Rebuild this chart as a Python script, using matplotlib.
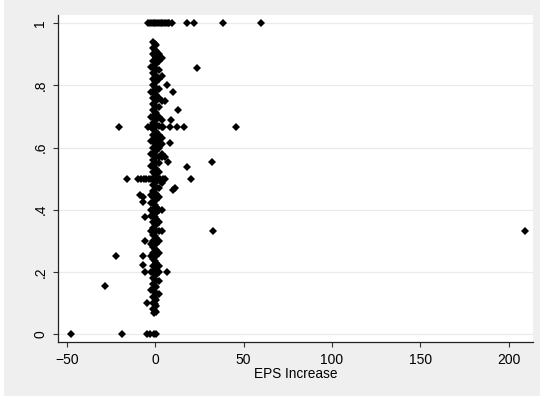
import matplotlib
matplotlib.use("Agg")
import matplotlib.pyplot as plt
from matplotlib.patches import Rectangle

plt.rcParams["font.family"] = ["Liberation Sans", "DejaVu Sans"]

# ── Data ──────────────────────────────────────────────────────────────────────
# dense column around EPS increase ~ 0
col_left_y  = [.94, .92, .90, .88, .86, .84, .82, .80, .78, .76, .74, .72, .70, .68, .66,
               .64, .62, .60, .58, .56, .54, .52, .50, .48, .46, .44, .42, .40, .38, .36,
               .34, .32, .30, .28, .26, .24, .22, .20, .18, .16, .14, .12, .10, .08]
col_mid_y   = [.93, .91, .89, .87, .85, .83, .81, .79, .77, .75, .73, .71, .69, .67, .65,
               .63, .61, .59, .57, .55, .53, .51, .49, .47, .45, .43, .41, .39, .37, .35,
               .33, .31, .29, .27, .25, .23, .21, .19, .17, .15, .13, .11, .09, .07]
col_c_y     = [.935, .915, .895, .875, .855, .835, .815, .795, .775, .755, .735, .715, .695,
               .675, .655, .635, .615, .595, .575, .555, .535, .515, .495, .475, .455, .435,
               .415, .395, .375, .355, .335, .315, .295, .275, .255, .235, .215, .195, .175,
               .155, .135, .115, .095, .075]
col_right_y = [.90, .88, .85, .82, .79, .76, .73, .70, .67, .64, .62, .60, .57, .55, .52,
               .47, .44, .40, .36, .33, .30, .26, .22, .20, .17, .13]
col_far_y   = [.89, .83, .75, .69, .667, .63, .61, .58, .57, .485, .40, .333]
col_neg_y   = [.86, .78, .70, .667, .62, .58, .54, .50, .447, .42, .40, .38, .333, .29, .25, .20, .14]

# rows at exact ratios
top_x  = [-4, -3, -2, -1, 0, 1, 2, 3, 4, 5, 6, 7, 8, 9.5, 18.1, 22.1, 38.5, 60]
zero_x = [-47.6, -18.8, -4.5, -3, -0.5, 0.5]
half_x = [-16, -9.6, -8, -6.5, -5, -3.5, 2.5, 4.5, 5.7, 20.3]
twoth_x = [-20.4, -4, -2.5, 4.5, 8.5, 12.5, 16.5, 45.8]

# scattered outliers
out_x = [23.8, 6.7, 9.8, 13, 9, 8.5, 7.4, 32.3, 18, 11.3, 10, 5.7, -8.5, -7, -5.7,
         -6.8, -5.7, 32.8, 209.5, -22, -6.8, -6.8, -5.7, 6.8, -28.3, -4.5, -1, 5.2]
out_y = [.857, .80, .778, .72, .69, .614, .553, .553, .538, .47, .463, .57, .447, .44,
         .376, .425, .30, .333, .333, .25, .25, .222, .20, .20, .154, .10, .067, .75]

xticks = [-50, 0, 50, 100, 150, 200]
yticks = [0, .2, .4, .6, .8, 1]
ytick_labels = ["0", ".2", ".4", ".6", ".8", "1"]

# ── Figure ────────────────────────────────────────────────────────────────────
fig = plt.figure(figsize=(5.4, 3.96), dpi=100, facecolor="#EFEFEF")
fig.patches.append(Rectangle((0, 0), 4 / 540, 1, transform=fig.transFigure,
                             facecolor="white", edgecolor="none", zorder=-1))
ax = fig.add_axes([58 / 540, 1 - 342 / 396, 475 / 540, 327 / 396])
ax.set_facecolor("white")

mk = dict(marker="D", ms=3.9, color="black", ls="none", mew=0)
ax.plot([-1.2] * len(col_left_y), col_left_y, **mk)
ax.plot([0.6] * len(col_mid_y), col_mid_y, **mk)
ax.plot([-0.3] * len(col_c_y), col_c_y, **mk)
ax.plot([2.2] * len(col_right_y), col_right_y, **mk)
ax.plot([4.0] * len(col_far_y), col_far_y, **mk)
ax.plot([-2.6] * len(col_neg_y), col_neg_y, **mk)
ax.plot(top_x, [1] * len(top_x), **mk)
ax.plot(zero_x, [0] * len(zero_x), **mk)
ax.plot(half_x, [.5] * len(half_x), **mk)
ax.plot(twoth_x, [.667] * len(twoth_x), **mk)
ax.plot(out_x, out_y, **mk)

ax.set_xlim(-55.1, 213.8)
ax.set_ylim(-0.026, 1.027)
ax.set_xticks(xticks)
ax.set_yticks(yticks)
ax.set_yticklabels(ytick_labels, rotation=90, va="center")
ax.yaxis.grid(True, color="#EAEAEA", lw=0.9)
ax.set_axisbelow(True)
ax.tick_params(direction="out", length=3.6, width=0.8, color="#333333",
               labelsize=10, pad=4)
for s in ["top", "right"]:
    ax.spines[s].set_visible(False)
for s in ["left", "bottom"]:
    ax.spines[s].set_color("#222222")
    ax.spines[s].set_linewidth(0.9)
ax.set_xlabel("EPS Increase", fontsize=9.8, labelpad=0)

plt.savefig("out.png", dpi=100, facecolor=fig.get_facecolor())
